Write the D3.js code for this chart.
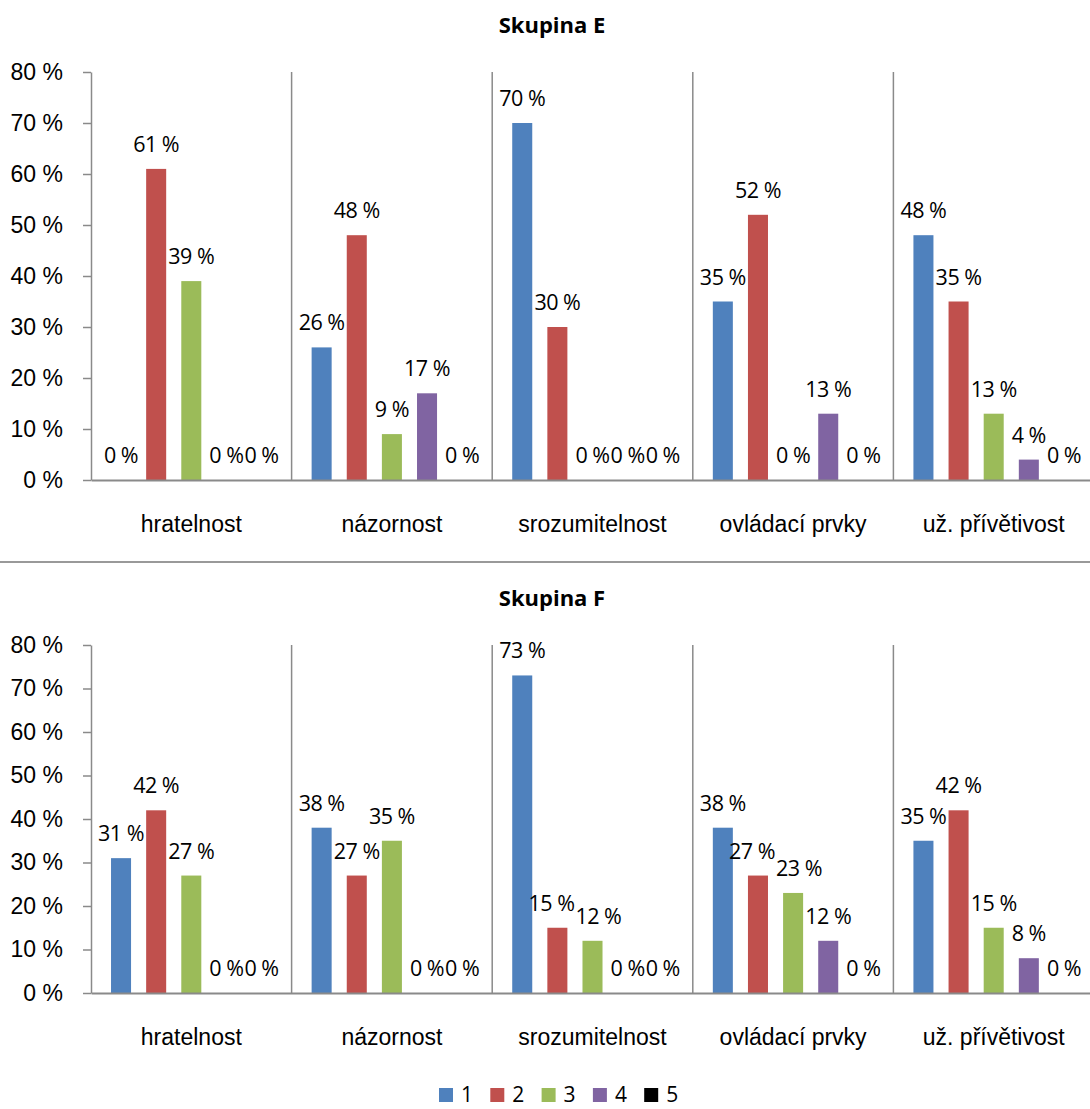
<!DOCTYPE html>
<html>
<head>
<meta charset="utf-8">
<script src="https://cdn.jsdelivr.net/npm/d3@7"></script>
<style>
  html, body { margin: 0; padding: 0; background: #fff; }
  svg { display: block; font-family: "Open Sans", "Noto Sans", sans-serif; }
</style>
</head>
<body>
<svg id="chart" width="1090" height="1109"></svg>
<script>
// Hodnocení kategorií – podíl odpovědí 1–5 (v %)
const categories = ["hratelnost", "názornost", "srozumitelnost", "ovládací prvky", "už. přívětivost"];
const seriesNames = ["1", "2", "3", "4", "5"];
const seriesColors = ["#4f81bd", "#c0504d", "#9bbb59", "#8064a2", "#000000"];
const yTicks = [0, 10, 20, 30, 40, 50, 60, 70, 80];

// Skupina E: řádek = kategorie, sloupec = hodnocení 1..5
const groupE = [
  [0, 61, 39, 0, 0],
  [26, 48, 9, 17, 0],
  [70, 30, 0, 0, 0],
  [35, 52, 0, 13, 0],
  [48, 35, 13, 4, 0]
];
// Skupina F
const groupF = [
  [31, 42, 27, 0, 0],
  [38, 27, 35, 0, 0],
  [73, 15, 12, 0, 0],
  [38, 27, 23, 12, 0],
  [35, 42, 15, 8, 0]
];

const svg = d3.select("#chart");
const axisColor = "#8a8a8a";
const fontSize = 23;
const labelSize = 21.5;

const x0 = d3.scaleBand().domain(categories).range([91, 1094]).padding(0);
const x1 = d3.scaleBand().domain(seriesNames).range([0, x0.bandwidth()])
  .paddingInner(0.43).paddingOuter(0.57);

// push apart neighbouring value labels that sit at a similar height
function separateLabels(sel) {
  const nodes = sel.nodes();
  for (let i = 0; i < nodes.length - 1; i++) {
    const a = nodes[i], b = nodes[i + 1];
    const ba = a.getBBox(), bb = b.getBBox();
    const vOverlap = ba.y < bb.y + bb.height - 8 && bb.y < ba.y + ba.height - 8;
    const overlap = ba.x + ba.width + 1 - bb.x;
    if (vOverlap && overlap > 0) {
      a.setAttribute("x", +a.getAttribute("x") - overlap / 2);
      b.setAttribute("x", +b.getAttribute("x") + overlap / 2);
    }
  }
}

function drawPanel(title, data, titleY, top, bottom) {
  const g = svg.append("g");
  const y = d3.scaleLinear().domain([0, 80]).range([bottom, top]);

  g.append("text")
    .attr("x", 552).attr("y", titleY)
    .attr("text-anchor", "middle")
    .attr("font-weight", "bold")
    .attr("font-size", 22)
    .attr("fill", "#000")
    .text(title);

  // category separators
  const bounds = categories.slice(1).map(c => x0(c)).concat([x0.range()[1]]);
  g.selectAll("line.sep").data(bounds).join("line")
    .attr("class", "sep")
    .attr("x1", d => d).attr("x2", d => d)
    .attr("y1", top).attr("y2", bottom)
    .attr("stroke", axisColor).attr("stroke-width", 1.5);

  // bars
  const cat = g.selectAll("g.cat").data(data).join("g")
    .attr("class", "cat")
    .attr("transform", (d, i) => `translate(${x0(categories[i])},0)`);

  cat.selectAll("rect").data(d => d.map((v, j) => ({ v, j })))
    .join("rect")
    .attr("x", d => x1(seriesNames[d.j]))
    .attr("width", x1.bandwidth())
    .attr("y", d => y(d.v))
    .attr("height", d => y(0) - y(d.v))
    .attr("fill", d => seriesColors[d.j]);

  cat.each(function () {
    const labels = d3.select(this).selectAll("text")
      .data(d => d.map((v, j) => ({ v, j })))
      .join("text")
      .attr("x", d => x1(seriesNames[d.j]) + x1.bandwidth() / 2)
      .attr("y", d => y(d.v) - 17)
      .attr("text-anchor", "middle")
      .attr("font-size", labelSize)
      .attr("letter-spacing", -0.5)
      .attr("fill", "#000")
      .text(d => d.v + " %");
    separateLabels(labels);
  });

  // y axis
  const yAxis = g.append("g")
    .attr("transform", "translate(91,0)")
    .call(d3.axisLeft(y).tickValues(yTicks).tickSizeInner(8).tickSizeOuter(0)
      .tickPadding(20).tickFormat(d => d + " %"));
  yAxis.select(".domain").attr("stroke", axisColor).attr("stroke-width", 1.5);
  yAxis.selectAll(".tick line").attr("stroke", axisColor).attr("stroke-width", 1.5);
  yAxis.selectAll(".tick text").attr("font-size", fontSize).attr("fill", "#000")
    .attr("font-family", null);

  // x axis
  const xAxis = g.append("g")
    .attr("transform", `translate(0,${bottom})`)
    .call(d3.axisBottom(x0).tickSizeInner(0).tickSizeOuter(0).tickPadding(36));
  xAxis.select(".domain").attr("stroke", axisColor).attr("stroke-width", 2);
  xAxis.selectAll(".tick text").attr("font-size", fontSize).attr("fill", "#000")
    .attr("font-family", null);
}

drawPanel("Skupina E", groupE, 33, 72, 480);

// divider between the two panels
svg.append("line")
  .attr("x1", 0).attr("x2", 1090).attr("y1", 562).attr("y2", 562)
  .attr("stroke", "#999").attr("stroke-width", 2);

drawPanel("Skupina F", groupF, 606, 645, 993);

// legend
const legend = svg.append("g").attr("transform", "translate(439,1088)");
const item = legend.selectAll("g").data(seriesNames).join("g")
  .attr("transform", (d, i) => `translate(${i * 51.3},0)`);
item.append("rect").attr("width", 14).attr("height", 14)
  .attr("fill", (d, i) => seriesColors[i]);
item.append("text").attr("x", 22).attr("y", 14)
  .attr("font-size", 21).attr("fill", "#000")
  .text(d => d);
</script>
</body>
</html>
